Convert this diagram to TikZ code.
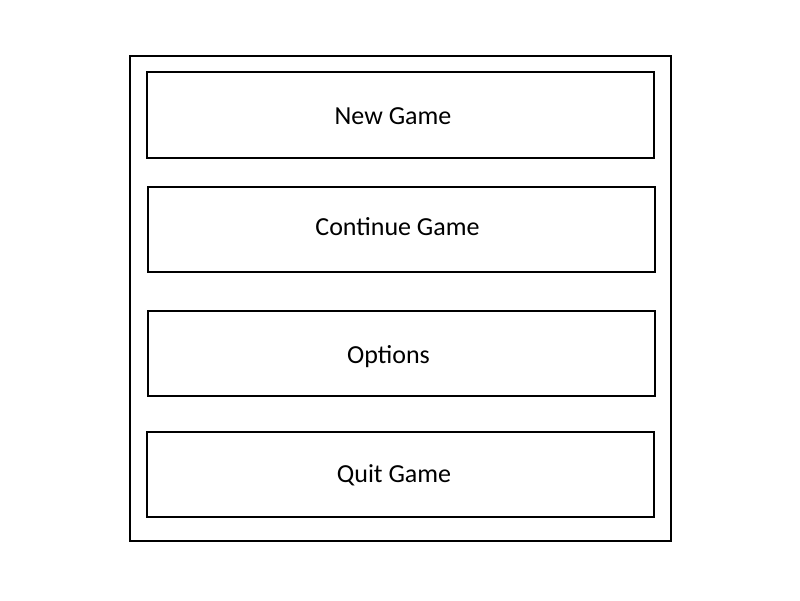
\documentclass[tikz,border=0pt]{standalone}
\usepackage{fontspec}
\setmainfont{Carlito}
\begin{document}
\begin{tikzpicture}[x=1pt,y=-1pt,
  frame/.style={draw=black,line width=2pt},
  label/.style={font=\fontsize{26}{31}\selectfont,anchor=base,inner sep=0pt}]
\useasboundingbox (0,0) rectangle (800,600);
\draw[frame] (129.5,55.5) rectangle (671,541);
\node[frame,inner sep=0pt,minimum width=507pt,minimum height=85.5pt] (b1) at (400.5,114.75) {};
\node[frame,inner sep=0pt,minimum width=507pt,minimum height=85pt] (b2) at (401.5,229) {};
\node[frame,inner sep=0pt,minimum width=507pt,minimum height=85pt] (b3) at (401.5,353) {};
\node[frame,inner sep=0pt,minimum width=507pt,minimum height=85pt] (b4) at (400.5,474) {};
\node[label] (t1) at (393,124.3) {New Game};
\node[label] (t2) at (397.5,235.3) {Continue Game};
\node[label] (t3) at (388.5,363.3) {Options};
\node[label] (t4) at (394,482.2) {Quit Game};
\end{tikzpicture}
\end{document}
